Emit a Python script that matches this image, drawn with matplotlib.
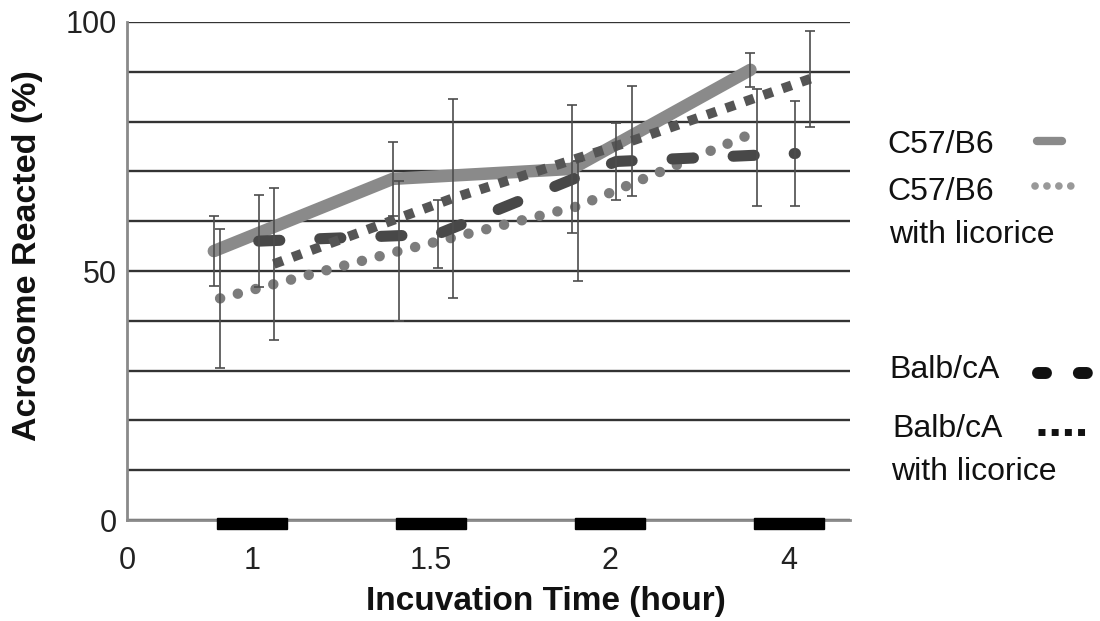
import matplotlib.pyplot as plt
import matplotlib.transforms as mtransforms
from matplotlib.lines import Line2D
from matplotlib.patches import Rectangle

plt.rcParams['font.family'] = ['Liberation Sans', 'DejaVu Sans']

# incubation time groups
time_labels = ['1', '1.5', '2', '4']
groups = [1, 2, 3, 4]

# acrosome reacted (%) and error bars
c57 = [54, 68.5, 70.5, 90.4]
c57_err = [7, 7.5, 12.8, 3.4]

c57_lic = [44.5, 54, 63, 78]
c57_lic_err_low = [14, 14, 15, 15]
c57_lic_err_high = [14, 14, 9, 8.5]

balb = [56, 57.4, 72, 73.6]
balb_err = [9.3, 6.8, 7.8, 10.5]

balb_lic = [51.4, 64.6, 76.1, 88.6]
balb_lic_err = [15.3, 20, 11, 9.6]

y_ticks = list(range(0, 101, 10))
y_labels = ['0', '', '', '', '', '50', '', '', '', '', '100']

fig = plt.figure(figsize=(11, 6.21), dpi=100)
ax = fig.add_axes([0.1155, 0.1626, 0.657, 0.802])

ebar = dict(fmt='none', ecolor='#4d4d4d', elinewidth=1.2, capsize=3.5,
            capthick=1.2, zorder=6)

# each series sits at a small offset inside its group
x1 = [g - 0.155 for g in groups]
x2 = [g - 0.12 for g in groups]
x3 = [g + 0.096 for g in groups]
x4 = [g + 0.18 for g in groups]

ax.plot(x1, c57, color='#8a8a8a', lw=9, solid_capstyle='round', zorder=2)
ax.plot(x2, c57_lic, color='#7c7c7c', lw=7.5, linestyle=(0, (0.01, 1.75)),
        dash_capstyle='round', zorder=3)
ax.plot(x3, balb, color='#484848', lw=8, linestyle=(0, (1.9, 3.6)),
        dash_capstyle='round', zorder=4)
ax.plot(x4, balb_lic, color='#555555', lw=7, linestyle=(0, (1.0, 1.05)),
        dash_capstyle='butt', zorder=5)

ax.errorbar(x1, c57, yerr=c57_err, **ebar)
ax.errorbar(x2, c57_lic, yerr=[c57_lic_err_low, c57_lic_err_high], **ebar)
ax.errorbar(x3, balb, yerr=balb_err, **ebar)
ax.errorbar(x4, balb_lic, yerr=balb_lic_err, **ebar)

ax.set_xlim(0.36, 4.40)
ax.set_ylim(0, 100)

ax.set_yticks(y_ticks)
ax.set_yticklabels(y_labels)
ax.yaxis.grid(True, color='#333333', lw=1.7)
ax.set_axisbelow(True)

ax.set_xticks([0.36] + [g + 0.06 for g in groups])
ax.set_xticklabels(['0'] + time_labels)
ax.tick_params(axis='both', length=0, labelsize=22, colors='#222222')
ax.tick_params(axis='y', pad=7)
ax.tick_params(axis='x', pad=19)

for side in ['top', 'right']:
    ax.spines[side].set_visible(False)
for side in ['left', 'bottom']:
    ax.spines[side].set_color('#8a8a8a')
    ax.spines[side].set_linewidth(2)

# thick black markers under each time group
trans = mtransforms.blended_transform_factory(ax.transData, ax.transAxes)
for g in groups:
    ax.add_patch(Rectangle((g + 0.06 - 0.195, -0.018), 0.39, 0.022,
                           transform=trans, color='black', clip_on=False,
                           zorder=7))

fig.text(0.496, 0.0177, 'Incuvation Time (hour)', fontsize=24,
         fontweight='bold', ha='center', va='baseline', color='#111111')
fig.text(0.025, 0.589, 'Acrosome Reacted (%)', fontsize=24.5,
         fontweight='bold', ha='center', va='center', rotation=90,
         color='#111111')

# legend drawn by hand on the right
fs = 23
fig.text(887 / 1100, 0.7536, 'C57/B6', fontsize=fs, va='baseline', color='#111111')
fig.text(887 / 1100, 0.678, 'C57/B6', fontsize=fs, va='baseline', color='#111111')
fig.text(889 / 1100, 0.6087, 'with licorice', fontsize=fs, va='baseline', color='#111111')
fig.text(889 / 1100, 0.3913, 'Balb/cA', fontsize=fs, va='baseline', color='#111111')
fig.text(892 / 1100, 0.2963, 'Balb/cA', fontsize=fs, va='baseline', color='#111111')
fig.text(891 / 1100, 0.2271, 'with licorice', fontsize=fs, va='baseline', color='#111111')

fig.add_artist(Line2D([1037 / 1100, 1062 / 1100], [0.773, 0.773], color='#8a8a8a',
                      lw=6, solid_capstyle='round'))
fig.add_artist(Line2D([1035 / 1100, 1071 / 1100], [0.700, 0.700], color='#999999',
                      lw=5.5, linestyle=(0, (0.01, 1.55)), dash_capstyle='round'))
fig.add_artist(Line2D([1038 / 1100, 1091 / 1100], [0.3994, 0.3994], color='#111111',
                      lw=8.6, linestyle=(0, (0.67, 2.75)), dash_capstyle='round'))
fig.add_artist(Line2D([1038 / 1100, 1085 / 1100], [0.3043, 0.3043], color='#111111',
                      lw=5, linestyle=(0, (1.0, 0.9)), dash_capstyle='butt'))

fig.savefig('out.png', dpi=100)
